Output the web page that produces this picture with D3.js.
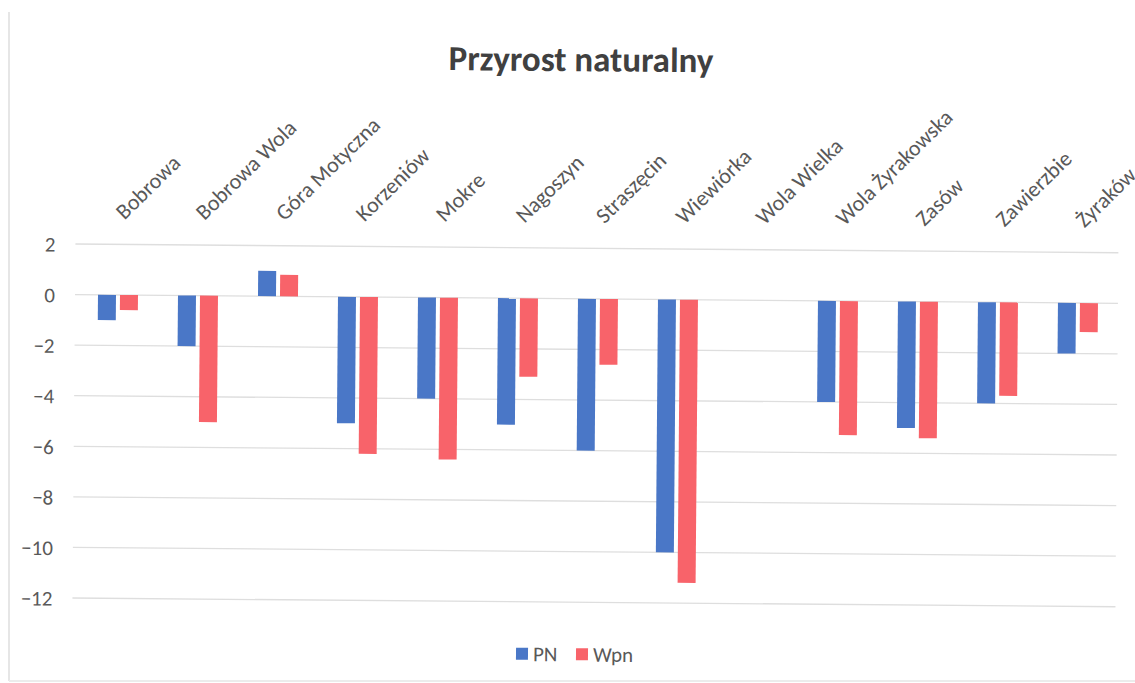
<!DOCTYPE html>
<html>
<head>
<meta charset="utf-8">
<script src="https://cdn.jsdelivr.net/npm/d3@7"></script>
<style>
  body { margin: 0; background: #fff; }
  text { font-family: Carlito, Calibri, Lato, "Open Sans", sans-serif; }
</style>
</head>
<body>
<svg id="chart" width="1135" height="683"></svg>
<script>
const categories = ["Bobrowa", "Bobrowa Wola", "Góra Motyczna", "Korzeniów", "Mokre", "Nagoszyn",
  "Straszęcin", "Wiewiórka", "Wola Wielka", "Wola Żyrakowska", "Zasów", "Zawierzbie", "Żyraków"];
const seriesNames = ["PN", "Wpn"];
const pnValues  = [-1, -2, 1, -5, -4, -5, -6, -10, 0, -4, -5, -4, -2];
const wpnValues = [-0.6, -5.0, 0.85, -6.2, -6.4, -3.1, -2.6, -11.2, 0, -5.3, -5.4, -3.7, -1.15];
const yTicks = [2, 0, -2, -4, -6, -8, -10, -12];
const colors = ["#4a77c7", "#f8636a"];
const titleText = "Przyrost naturalny";

const svg = d3.select("#chart");

// faint scan border
svg.append("line").attr("x1", 9).attr("x2", 9).attr("y1", 12).attr("y2", 681)
  .attr("stroke", "#e6e6e6").attr("stroke-width", 2);
svg.append("line").attr("x1", 9).attr("x2", 1135).attr("y1", 681).attr("y2", 681)
  .attr("stroke", "#ececec").attr("stroke-width", 2);

const g = svg.append("g").attr("transform", "rotate(0.48, 75, 294)");

const x = d3.scaleBand().domain(categories).range([78, 1118]).paddingInner(0).paddingOuter(0);
const y = d3.scaleLinear().domain([2, -12]).range([244, 598]);

// gridlines
g.append("g").selectAll("line").data(yTicks).join("line")
  .attr("x1", 75).attr("x2", 1118)
  .attr("y1", d => y(d)).attr("y2", d => y(d))
  .attr("stroke", "#dedede").attr("stroke-width", 1.3);

// y axis labels
const yAxis = d3.axisLeft(y).tickValues(yTicks).tickSize(0).tickPadding(0);
const ya = g.append("g").attr("transform", "translate(55,0)").call(yAxis);
ya.select(".domain").remove();
ya.selectAll("text").attr("font-size", 21).attr("fill", "#595959")
  .attr("font-family", "Carlito, Calibri, Lato, sans-serif").attr("dy", "0.35em");

// bars
const barW = 18, gap = 4;
const data = categories.map((c, i) => ({ c, vals: [pnValues[i], wpnValues[i]] }));
const grp = g.append("g").selectAll("g").data(data).join("g")
  .attr("transform", d => `translate(${x(d.c) + x.bandwidth() / 2},0)`);
grp.selectAll("rect").data(d => d.vals.map((v, k) => ({ v, k }))).join("rect")
  .attr("x", d => d.k === 0 ? -(barW + gap / 2) : gap / 2)
  .attr("width", barW)
  .attr("y", d => Math.min(y(d.v), y(0)))
  .attr("height", d => Math.abs(y(d.v) - y(0)))
  .attr("fill", d => colors[d.k]);

// category labels (top, rotated)
g.append("g").selectAll("text").data(categories).join("text")
  .attr("transform", d => `translate(${x(d) + x.bandwidth() / 2 + 6},220) rotate(-45)`)
  .attr("text-anchor", "start")
  .attr("font-size", 22)
  .attr("fill", "#595959")
  .text(d => d);

// title
g.append("text").attr("x", 579).attr("y", 67).attr("text-anchor", "middle")
  .attr("font-size", 35).attr("font-weight", "bold").attr("fill", "#404040")
  .text(titleText);

// legend
const leg = g.append("g").attr("transform", "translate(519,650)");
const items = leg.selectAll("g").data(seriesNames).join("g")
  .attr("transform", (d, i) => `translate(${i === 0 ? 0 : 60},0)`);
items.append("rect").attr("x", 0).attr("y", -6).attr("width", 12).attr("height", 12)
  .attr("fill", (d, i) => colors[i]);
items.append("text").attr("x", 17).attr("y", 0).attr("dy", "0.35em")
  .attr("font-size", 21).attr("fill", "#595959").text(d => d);
</script>
</body>
</html>
